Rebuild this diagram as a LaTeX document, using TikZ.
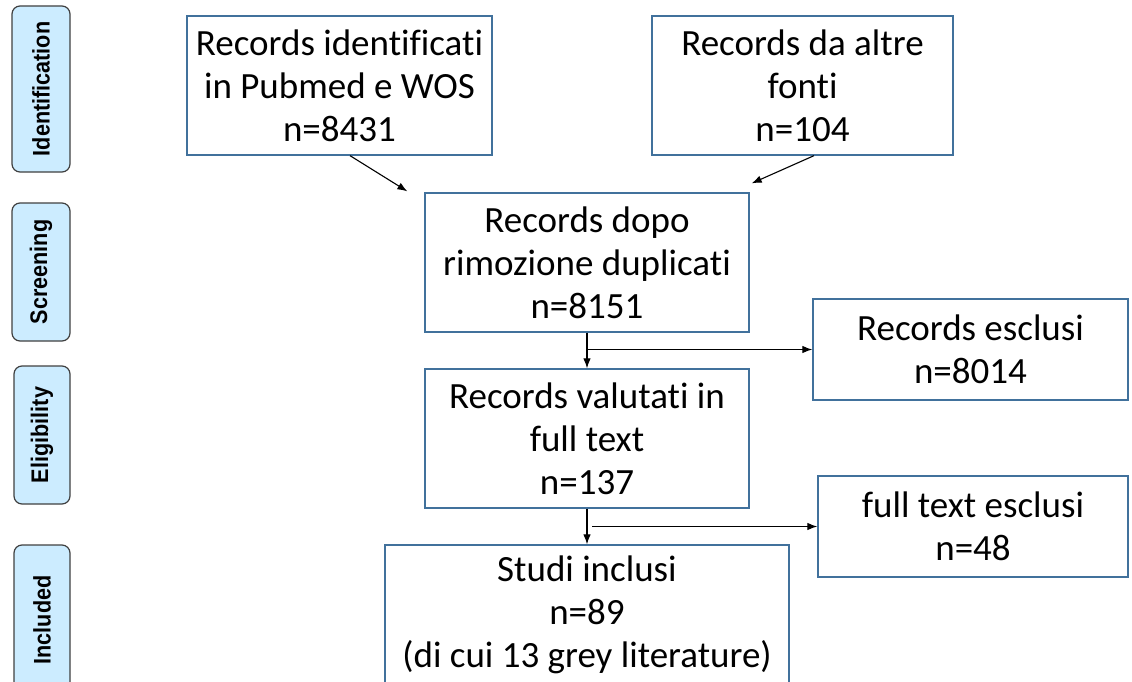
\documentclass[tikz,border=0pt]{standalone}
\usepackage{fontspec}
\setmainfont{Carlito}[Ligatures=NoCommon]
\newfontfamily\labfont{Liberation Sans}
\usetikzlibrary{arrows.meta}
\definecolor{boxblue}{HTML}{41719C}
\definecolor{labfill}{HTML}{CCECFF}
\definecolor{labdraw}{HTML}{404040}
\newcommand{\phtext}[1]{\scalebox{0.9}[1]{#1}}
\tikzset{
  mainbox/.style={draw=boxblue, line width=1.3pt, fill=white, align=center,
    inner sep=0pt, font=\fontsize{37}{43}\selectfont},
  phase/.style={draw=labdraw, line width=1.2pt, fill=labfill, rounded corners=8pt,
    inner sep=0pt, rotate=90, font=\labfont\bfseries\fontsize{24}{28}\selectfont},
  arr/.style={-{Latex[length=10pt,width=7.5pt]}, line width=1.1pt, black},
}
\begin{document}
\begin{tikzpicture}[x=1pt,y=-1pt]
\useasboundingbox (0,0) rectangle (1132,682);
\begin{scope}
\clip (0,0) rectangle (1132,682);
% phase labels (rotated: minimum width = vertical extent)
\node[phase, minimum width=166pt, minimum height=58pt] (pid) at (41,89) {\phtext{Identification}};
\node[phase, minimum width=138pt, minimum height=58pt] (psc) at (41,272) {\phtext{Screening}};
\node[phase, minimum width=138pt, minimum height=56pt] (pel) at (42,435) {\phtext{Eligibility}};
\node[phase, minimum width=150pt, minimum height=56pt] (pin) at (42,620) {\phtext{Included}};

% main boxes
\node[mainbox, minimum width=305pt, minimum height=139pt] (A) at (339.5,85.5)
  {Records identificati\\in Pubmed e WOS\\n=8431};
\node[mainbox, minimum width=301pt, minimum height=139pt] (B) at (802.5,85.5)
  {Records da altre\\fonti\\n=104};
\node[mainbox, minimum width=324pt, minimum height=139pt] (C) at (587,262.5)
  {Records dopo\\rimozione duplicati\\n=8151};
\node[mainbox, minimum width=324pt, minimum height=139pt] (D) at (587,438.5)
  {Records valutati in\\full text\\n=137};
\node[mainbox, minimum width=315pt, minimum height=101pt] (E) at (970.5,349.5)
  {Records esclusi\\n=8014};
\node[mainbox, minimum width=310pt, minimum height=101pt] (G) at (973,526.5)
  {full text esclusi\\n=48};
\node[mainbox, minimum width=404pt, minimum height=139pt] (F) at (587,614.5)
  {Studi inclusi\\n=89\\(di cui 13 grey literature)};

% connectors
\draw[arr] ([xshift=10.5pt]A.south) -- ([xshift=-17pt,yshift=1pt]C.north west);
\draw[arr] ([xshift=11.5pt]B.south) -- ([xshift=2pt,yshift=9pt]C.north east);
\draw[arr] (C.south) -- (D.north);
\coordinate (c1) at (C.south |- E.west);
\draw[arr] (c1) -- (E.west);
\draw[arr] (D.south) -- (F.north);
\coordinate (d1) at ([xshift=5pt]D.south |- G.west);
\draw[arr] (d1) -- (G.west);
\end{scope}
\end{tikzpicture}
\end{document}
